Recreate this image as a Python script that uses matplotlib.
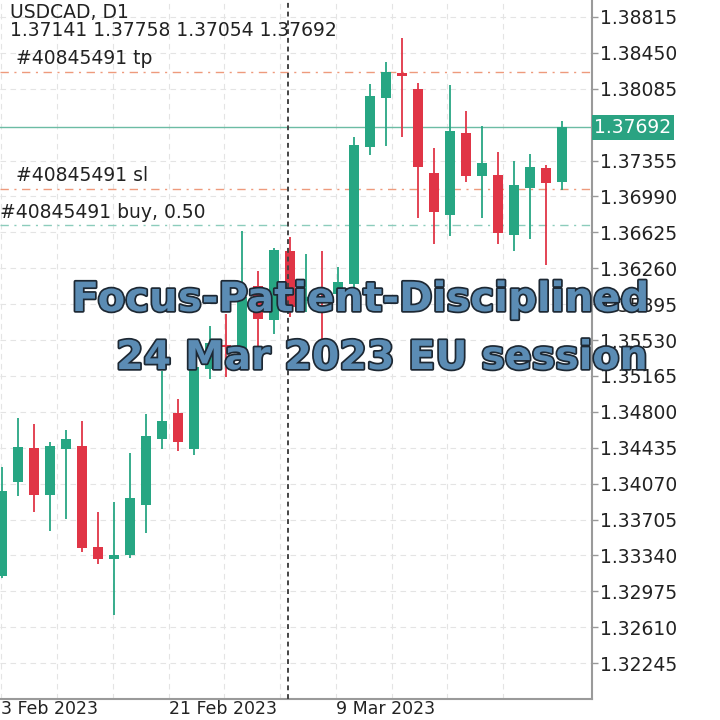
import matplotlib.pyplot as plt
import matplotlib.patheffects as pe
import numpy as np

# ---- datos (USDCAD D1) ----
opens = [1.33127, 1.34090, 1.34435, 1.33958, 1.34425, 1.34455, 1.33421, 1.33299,
         1.33340, 1.33857, 1.34526, 1.34790, 1.34425, 1.35236, 1.35479, 1.35418,
         1.36078, 1.35733, 1.36432, 1.35925, 1.35966, 1.35996, 1.36098, 1.37497,
         1.37994, 1.38247, 1.38085, 1.37233, 1.36797, 1.37639, 1.37193, 1.37203,
         1.36595, 1.37071, 1.37274, 1.37141]
highs = [1.34242, 1.34739, 1.34678, 1.34496, 1.34617, 1.34709, 1.33786, 1.33887,
         1.34384, 1.34780, 1.35216, 1.34932, 1.35337, 1.35672, 1.35794, 1.36635,
         1.36230, 1.36463, 1.36574, 1.36402, 1.36432, 1.36270, 1.37598, 1.38136,
         1.38359, 1.38602, 1.38146, 1.37487, 1.38126, 1.37862, 1.37710, 1.37446,
         1.37355, 1.37426, 1.37314, 1.37758]
lows = [1.33107, 1.33948, 1.33786, 1.33593, 1.33715, 1.33370, 1.33249, 1.32732,
        1.33310, 1.33563, 1.34425, 1.34405, 1.34364, 1.35135, 1.35155, 1.35408,
        1.35408, 1.35591, 1.35763, 1.35814, 1.35540, 1.35814, 1.36017, 1.37416,
        1.37507, 1.37598, 1.36767, 1.36503, 1.36584, 1.37132, 1.36767, 1.36503,
        1.36432, 1.36554, 1.36290, 1.37054]
closes = [1.33999, 1.34445, 1.33958, 1.34455, 1.34526, 1.33411, 1.33299, 1.33340,
          1.33928, 1.34557, 1.34709, 1.34496, 1.35256, 1.35500, 1.35459, 1.35966,
          1.35743, 1.36443, 1.35865, 1.35966, 1.35925, 1.36118, 1.37517, 1.38014,
          1.38257, 1.38217, 1.37284, 1.36828, 1.37659, 1.37193, 1.37325, 1.36615,
          1.37102, 1.37284, 1.37122, 1.37692]

precio_tp = 1.38257
precio_sl = 1.37061
precio_buy = 1.36696
precio_actual = 1.37692

yticks = [1.38815, 1.38450, 1.38085, 1.37355, 1.36990, 1.36625, 1.36260, 1.35895,
          1.35530, 1.35165, 1.34800, 1.34435, 1.34070, 1.33705, 1.33340, 1.32975,
          1.32610, 1.32245]
fechas = ["3 Feb 2023", "", "", "21 Feb 2023", "", "", "9 Mar 2023", "", "", ""]

VERDE = "#27a683"
ROJO = "#e03546"
FS = 13.5

fig = plt.figure(figsize=(7.2, 7.2), dpi=100)
alto_abajo = 21 / 720
ax = fig.add_axes([0.0, alto_abajo, 592 / 720, 1 - alto_abajo])

x = np.arange(len(opens))
o = np.array(opens)
c = np.array(closes)
sube = c >= o
colores = [VERDE if s else ROJO for s in sube]

ax.vlines(x, lows, highs, colors=colores, linewidth=1.3, zorder=3)
cuerpo = np.maximum(np.abs(c - o), 0.00025)
ax.bar(x, cuerpo, bottom=np.minimum(o, c), width=0.62, color=colores,
       linewidth=0, zorder=4)

# niveles de la orden
ax.axhline(precio_tp, color="#ee9a7c", lw=1.0, ls=(0, (6, 4, 1.5, 4)), zorder=2)
ax.axhline(precio_sl, color="#ee9a7c", lw=1.0, ls=(0, (6, 4, 1.5, 4)), zorder=2)
ax.axhline(precio_buy, color="#8cccbc", lw=1.0, ls=(0, (6, 4, 1.5, 4)), zorder=2)
ax.axhline(precio_actual, color="#6cbca4", lw=1.0, zorder=2)
ax.axvline(17.9, color="#444444", lw=1.4, ls=(0, (2.5, 2)), zorder=5)

kw = dict(fontsize=FS, color="#222222", family="DejaVu Sans")
ax.text(0.9, precio_tp + 0.0004, "#40845491 tp", va="bottom", **kw)
ax.text(0.9, precio_sl + 0.0004, "#40845491 sl", va="bottom", **kw)
ax.text(-0.1, precio_buy + 0.0003, "#40845491 buy, 0.50", va="bottom", **kw)

fig.text(10 / 720, 1 - 13 / 720, "USDCAD, D1", va="center", ha="left", **kw)
fig.text(10 / 720, 1 - 31 / 720,
         f"{opens[-1]:.5f} {highs[-1]:.5f} {lows[-1]:.5f} {closes[-1]:.5f}",
         va="center", ha="left", **kw)

# ejes
ax.set_xlim(-0.125, 36.875)
ax.set_ylim(1.31880, 1.38987)
ax.yaxis.tick_right()
ax.set_yticks(yticks)
ax.set_yticklabels([f"{v:.5f}" for v in yticks], fontsize=FS, color="#222222")
ax.tick_params(axis="y", length=4, width=1, color="#999999", pad=2)

grid_x = -0.05 + 3.486 * np.arange(10)
ax.set_xticks(grid_x)
ax.set_xticklabels(fechas, fontsize=12.5, color="#222222", ha="left")
ax.tick_params(axis="x", length=0, pad=0.5)

ax.grid(True, color="#e4e4e4", lw=0.8, ls=(0, (5, 4)))
ax.set_axisbelow(True)
for lado in ["left", "top"]:
    ax.spines[lado].set_visible(False)
for lado in ["right", "bottom"]:
    ax.spines[lado].set_color("#9a9a9a")
    ax.spines[lado].set_linewidth(1.5)

# etiqueta del precio actual
ax.text(1.004, precio_actual, f"{precio_actual:.5f}", transform=ax.get_yaxis_transform(),
        va="center", ha="left", fontsize=FS, color="white",
        bbox=dict(boxstyle="square,pad=0.15", fc="#2aa382", ec="none"), zorder=10,
        clip_on=False)

# texto superpuesto
efecto = [pe.Stroke(linewidth=2.5, foreground="#1d2833"), pe.Normal()]
fig.text(360 / 720, 1 - 300 / 720, "Focus-Patient-Disciplined", ha="center", va="center",
         fontsize=29, fontweight="bold", color="#5b8cb4", path_effects=efecto, zorder=20)
fig.text(382 / 720, 1 - 358 / 720, "24 Mar 2023 EU session", ha="center", va="center",
         fontsize=28.5, fontweight="bold", color="#5b8cb4", path_effects=efecto, zorder=20)

fig.savefig("out.png", dpi=100, facecolor="white")
